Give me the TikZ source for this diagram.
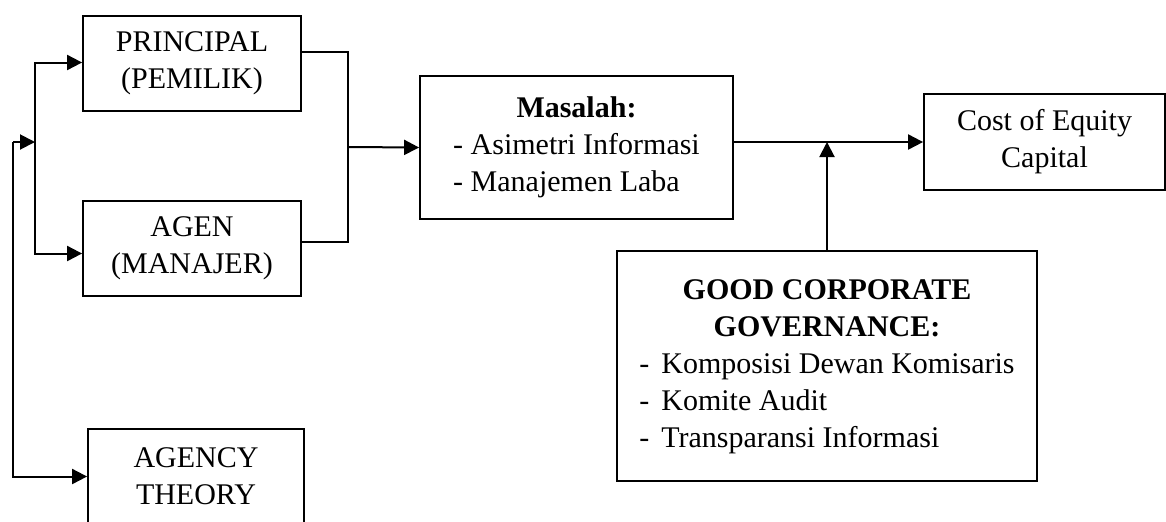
\documentclass[tikz,border=0pt]{standalone}
\usepackage{fontspec}
\setmainfont{Liberation Serif}
\usetikzlibrary{arrows.meta}
\begin{document}
\begin{tikzpicture}[x=0.5pt,y=-0.5pt,
    box/.style={draw, line width=0.9pt, inner sep=0pt, align=center,
      font=\fontsize{15pt}{18.5pt}\selectfont},
    arr/.style={line width=1pt, -{Triangle[length=7.5pt,width=7.5pt]}},
    link/.style={line width=1pt}]
  \clip (0,0) rectangle (1166,521);
  % kotak
  \node[box, minimum width=109pt, minimum height=47.5pt] (principal) at (192,63.5) {PRINCIPAL\\(PEMILIK)};
  \node[box, minimum width=109pt, minimum height=47.5pt] (agen) at (192,248.5) {AGEN\\(MANAJER)};
  \node[box, minimum width=108pt, minimum height=47.5pt] (agency) at (196,476.5) {AGENCY\\THEORY};
  \node[box, minimum width=156.5pt, minimum height=71.5pt] (masalah) at (576.5,147.5)
    {\begin{tabular}{@{}l@{}}\multicolumn{1}{@{}c@{}}{\textbf{Masalah:}}\\- Asimetri Informasi\\- Manajemen Laba\end{tabular}};
  \node[box, minimum width=120.5pt, minimum height=48pt] (cost) at (1044.5,142) {Cost of Equity\\Capital};
  \node[box, minimum width=210pt, minimum height=115pt] (gcg) at (827,366)
    {\begin{tabular}{@{}l@{\hspace{6pt}}l@{}}\multicolumn{2}{@{}c@{}}{\textbf{GOOD CORPORATE}}\\
     \multicolumn{2}{@{}c@{}}{\textbf{GOVERNANCE:}}\\
     -&Komposisi Dewan Komisaris\\-&Komite Audit\\-&Transparansi Informasi\end{tabular}};
  % titik bantu
  \coordinate (outer) at (13,142);
  \coordinate (split) at (35,142);
  \coordinate (join) at (348,147);
  % garis
  \draw[arr] (outer) |- (agency.west);
  \draw[arr] (outer) -- (split);
  \draw[arr] (split) |- ([yshift=0.5pt]principal.west);
  \draw[arr] (split) |- ([yshift=-2.5pt]agen.west);
  \draw[link] ([yshift=5.75pt]principal.east) -| (join) |- ([yshift=3.25pt]agen.east);
  \draw[arr] (join) -- (masalah.west);
  \draw[arr] (masalah.east |- cost.west) -- (cost.west);
  \draw[arr] (gcg.north) -- (gcg.north |- cost.west);
\end{tikzpicture}
\end{document}
